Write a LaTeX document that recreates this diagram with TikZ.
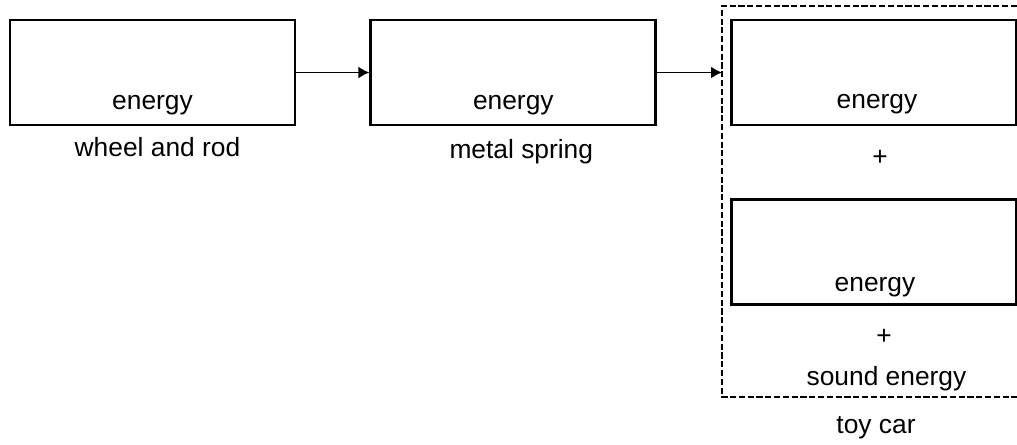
\documentclass[tikz,border=0pt]{standalone}
\usepackage{fontspec}
\setmainfont{Liberation Sans}
\usetikzlibrary{arrows.meta, positioning, calc}

\begin{document}
\begin{tikzpicture}[
    ebox/.style={draw, rectangle, line width=1.6pt, minimum width=5.7cm, minimum height=2.1cm, inner sep=0pt},
    txt/.style={font=\fontsize{15}{18}\selectfont, inner sep=0pt},
    group/.style={dash pattern=on 3.5pt off 1.5pt, line width=1.1pt},
    arrow/.style={line width=1.1pt, -{Latex[length=0.22cm, width=0.24cm]}}
]
\useasboundingbox (0,0) rectangle (20.34,8.88);

% Chain of energy stores
\node[ebox] (wheel) at (3.05,7.43) {};
\node[ebox, right=1.46cm of wheel] (spring) {};
\node[txt] (wheelE) at ($(wheel.south)+(0,0.42)$) {energy};
\node[txt] (springE) at ($(spring.south)+(0,0.42)$) {energy};
\node[txt, below=0.22cm of wheel.south, xshift=0.1cm] (wheelL) {wheel and rod};
\node[txt, below=0.26cm of spring.south, xshift=0.16cm] (springL) {metal spring};

% Toy car group (right side runs off the page)
\node[ebox] (carA) at (17.48,7.43) {};
\node[ebox, below=1.44cm of carA] (carB) {};
\node[txt] (carAE) at ($(carA.south)+(0.06,0.44)$) {energy};
\node[txt] (carBE) at ($(carB.south)+(0.02,0.38)$) {energy};
\node[txt] (plusA) at ($(carA.south)+(0.12,-0.62)$) {+};
\node[txt] (plusB) at ($(carB.south)+(0.2,-0.62)$) {+};
\node[txt] (sound) at ($(carB.south)+(0.25,-1.44)$) {sound energy};
\coordinate (grpNW) at (14.44,8.76);
\coordinate (grpSW) at (14.44,0.94);
\coordinate (grpNE) at (20.34,8.76);
\coordinate (grpSE) at (20.34,0.94);
\draw[group] (grpNE) -- (grpNW) -- (grpSW) -- (grpSE);
\node[txt] (carL) at (17.52,0.32) {toy car};

% Connections
\draw[arrow] (wheel) -- (spring);
\draw[arrow] (spring.east) -- (spring.east -| grpNW);

\end{tikzpicture}
\end{document}
